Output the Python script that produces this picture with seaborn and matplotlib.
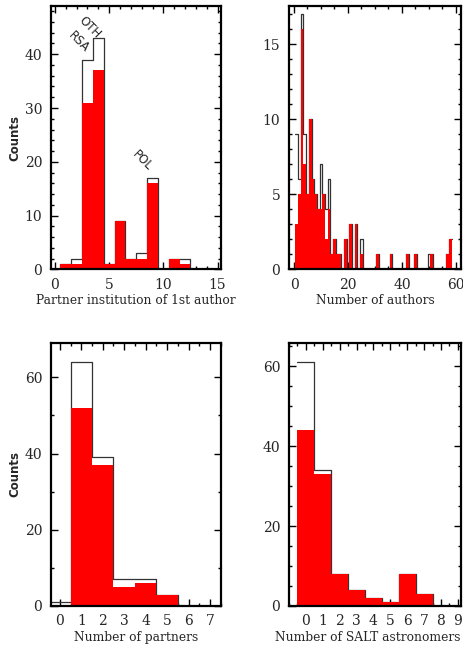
import numpy as np
import pandas as pd
import matplotlib
matplotlib.use("Agg")
import matplotlib.pyplot as plt
import seaborn as sns
from matplotlib.ticker import MultipleLocator, FixedLocator

# ── data ────────────────────────────────────────────────────────────────────
inst_x = list(range(0, 16))
inst_all = [0, 1, 2, 39, 43, 1, 9, 2, 3, 17, 0, 2, 2, 0, 0, 0]
inst_red = [0, 1, 1, 31, 37, 1, 9, 2, 2, 16, 0, 2, 1, 0, 0, 0]

auth_x = list(range(1, 59))
auth_all = [9, 6, 17, 9, 5, 10, 6, 5, 4, 7, 5, 4, 6, 1, 2, 1, 1, 0, 2, 0,
            3, 0, 3, 0, 2, 0, 0, 0, 0, 0, 1, 0, 0, 0, 0, 1, 0, 0, 0, 0,
            0, 1, 0, 0, 1, 0, 0, 0, 0, 1, 1, 0, 0, 0, 0, 0, 1, 2]
auth_red = [3, 5, 16, 7, 5, 10, 6, 5, 4, 4, 5, 2, 4, 1, 2, 1, 1, 0, 2, 0,
            3, 0, 3, 0, 1, 0, 0, 0, 0, 0, 1, 0, 0, 0, 0, 1, 0, 0, 0, 0,
            0, 1, 0, 0, 1, 0, 0, 0, 0, 0, 1, 0, 0, 0, 0, 0, 1, 2]

part_x = list(range(0, 8))
part_all = [1, 64, 39, 7, 7, 3, 0, 0]
part_red = [0, 52, 37, 5, 6, 3, 0, 0]

salt_x = list(range(0, 9))
salt_all = [61, 34, 8, 4, 2, 1, 8, 3, 0]
salt_red = [44, 33, 8, 4, 2, 1, 8, 3, 0]

sns.set_style("ticks")
plt.rcParams["font.family"] = ["DejaVu Serif"]

fig = plt.figure(figsize=(4.64, 6.46), dpi=100)
ax1 = fig.add_axes([0.109, 0.583, 0.367, 0.408])
ax2 = fig.add_axes([0.622, 0.583, 0.372, 0.408])
ax3 = fig.add_axes([0.109, 0.062, 0.367, 0.407])
ax4 = fig.add_axes([0.622, 0.062, 0.372, 0.407])


def draw_hist(ax, xs, total, red):
    df = pd.DataFrame({"x": xs, "all": total, "red": red})
    sns.histplot(data=df, x="x", weights="all", discrete=True, element="step",
                 fill=False, color="#333333", linewidth=0.9, ax=ax, zorder=1)
    sns.histplot(data=df, x="x", weights="red", discrete=True, element="bars",
                 fill=True, color="#ff0000", alpha=1, linewidth=0, ax=ax,
                 zorder=2)
    ax.set_ylabel("")
    ax.set_xlabel("")


def style(ax, xmaj, xmin, ymaj, ymin):
    if isinstance(xmaj, list):
        ax.xaxis.set_major_locator(FixedLocator(xmaj))
    else:
        ax.xaxis.set_major_locator(MultipleLocator(xmaj))
    ax.xaxis.set_minor_locator(MultipleLocator(xmin))
    ax.yaxis.set_major_locator(MultipleLocator(ymaj))
    ax.yaxis.set_minor_locator(MultipleLocator(ymin))
    ax.tick_params(which="both", direction="in", top=True, right=True,
                   labelsize=10, color="black", width=1)
    ax.tick_params(which="major", length=5, pad=6)
    ax.tick_params(which="minor", length=2.5)
    for sp in ax.spines.values():
        sp.set_linewidth(1.6)
        sp.set_color("black")


draw_hist(ax1, inst_x, inst_all, inst_red)
ax1.set_xlim(-0.4, 15.3)
ax1.set_ylim(0, 49)
style(ax1, 5, 1, 10, 2)
ax1.text(3.25, 45.0, "OTH", rotation=-45, ha="center", va="center",
         fontsize=8.5, family="DejaVu Sans")
ax1.text(2.2, 42.2, "RSA", rotation=-45, ha="center", va="center",
         fontsize=8.5, family="DejaVu Sans")
ax1.text(8.05, 20.3, "POL", rotation=-45, ha="center", va="center",
         fontsize=8.5, family="DejaVu Sans")

draw_hist(ax2, auth_x, auth_all, auth_red)
ax2.set_xlim(-2, 62)
ax2.set_ylim(0, 17.55)
style(ax2, 20, 5, 5, 1)

draw_hist(ax3, part_x, part_all, part_red)
ax3.set_xlim(-0.43, 7.5)
ax3.set_ylim(0, 69)
style(ax3, 1, 0.5, 20, 10)

draw_hist(ax4, salt_x, salt_all, salt_red)
ax4.set_xlim(-1.02, 9.2)
ax4.set_ylim(0, 65.8)
style(ax4, list(range(0, 10)), 0.5, 20, 5)

xlabels = ["Partner institution of 1st author", "Number of authors",
           "Number of partners", "Number of SALT astronomers"]
for ax, lab in zip([ax1, ax2, ax3, ax4], xlabels):
    ax.set_xlabel(lab, fontsize=8.8)
    ax.xaxis.set_label_coords(0.5, -0.095)
ax4.xaxis.set_label_coords(0.46, -0.095)

for ax in [ax1, ax3]:
    ax.set_ylabel("Counts", fontsize=8.5, fontweight="bold",
                  family="DejaVu Sans")
    ax.yaxis.set_label_coords(-0.17, 0.5)

fig.savefig("out.png", dpi=100)
